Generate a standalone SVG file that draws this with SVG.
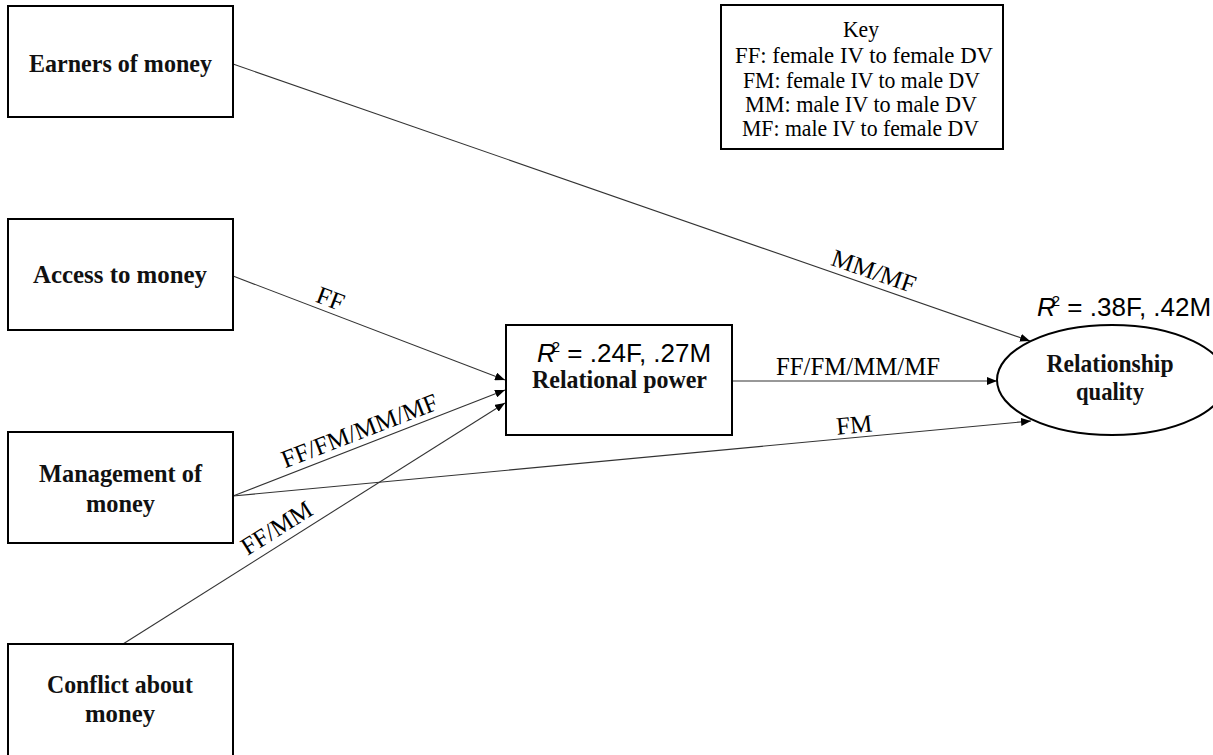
<svg xmlns="http://www.w3.org/2000/svg" width="1213" height="755" viewBox="0 0 1213 755">
<style>
.box{fill:#fff;stroke:#000;stroke-width:2}
.lbl{font-family:"Liberation Serif","Times New Roman",serif;font-size:26px;font-weight:bold;fill:#111;text-anchor:middle}
.key{font-family:"Liberation Serif","Times New Roman",serif;font-size:24px;fill:#000;text-anchor:middle}
.el{font-family:"Liberation Serif","Times New Roman",serif;font-size:25px;fill:#000;text-anchor:middle}
.r2{font-family:"Liberation Sans",Arial,sans-serif;font-size:26px;fill:#000}
.edge{stroke:#333;stroke-width:1.1;fill:none;marker-end:url(#arr)}
</style>
<defs>
<marker id="arr" viewBox="0 0 10 8" refX="10" refY="4" markerWidth="10" markerHeight="8" markerUnits="userSpaceOnUse" orient="auto">
<path d="M0,0 L10,4 L0,8 Z" fill="#000"/>
</marker>
</defs>
<rect width="1213" height="755" fill="#fff"/>
<g id="connectors">
<line class="edge" x1="233" y1="64" x2="1030" y2="341"/>
<line class="edge" x1="233" y1="276" x2="505" y2="380"/>
<line class="edge" x1="233" y1="496" x2="505" y2="390"/>
<line class="edge" x1="123" y1="644" x2="505" y2="403"/>
<line class="edge" x1="233" y1="496" x2="1031" y2="421"/>
<line class="edge" x1="732" y1="381" x2="997" y2="381"/>
<text class="el" x="871" y="279" transform="rotate(19.1 871 279)">MM/MF</text>
<text class="el" x="327.5" y="306.5" transform="rotate(20.9 327.5 306.5)">FF</text>
<text class="el" x="362.5" y="438.5" transform="rotate(-21.1 362.5 438.5)">FF/FM/MM/MF</text>
<text class="el" x="281" y="535" transform="rotate(-32.2 281 535)">FF/MM</text>
<text class="el" x="858" y="375" textLength="164" lengthAdjust="spacingAndGlyphs">FF/FM/MM/MF</text>
<text class="el" x="855" y="433" transform="rotate(-5.4 855 433)">FM</text>
</g>
<g id="earners">
<rect class="box" x="8" y="6" width="225" height="111"/>
<text class="lbl" x="120.5" y="71.5" textLength="183" lengthAdjust="spacingAndGlyphs">Earners of money</text>
</g>
<g id="access">
<rect class="box" x="8" y="219" width="225" height="111"/>
<text class="lbl" x="120" y="283" textLength="174" lengthAdjust="spacingAndGlyphs">Access to money</text>
</g>
<g id="management">
<rect class="box" x="8" y="432" width="225" height="111"/>
<text class="lbl" x="120.5" y="482" textLength="163" lengthAdjust="spacingAndGlyphs">Management of</text>
<text class="lbl" x="120.5" y="512" textLength="69" lengthAdjust="spacingAndGlyphs">money</text>
</g>
<g id="conflict">
<rect class="box" x="8" y="644" width="225" height="120"/>
<text class="lbl" x="120" y="693" textLength="146" lengthAdjust="spacingAndGlyphs">Conflict about</text>
<text class="lbl" x="120" y="722" textLength="70" lengthAdjust="spacingAndGlyphs">money</text>
</g>
<g id="relational">
<rect class="box" x="506" y="325" width="226" height="110"/>
<text class="r2" x="537" y="362"><tspan font-style="italic">R</tspan><tspan font-size="15" dx="-4" dy="-10">2</tspan><tspan dy="10"> = .24F, .27M</tspan></text>
<text class="lbl" x="619.5" y="388" textLength="175" lengthAdjust="spacingAndGlyphs">Relational power</text>
</g>
<g id="quality">
<ellipse cx="1112" cy="380" rx="115" ry="55" fill="#fff" stroke="#000" stroke-width="2"/>
<text class="r2" x="1037" y="316"><tspan font-style="italic">R</tspan><tspan font-size="15" dx="-4" dy="-10">2</tspan><tspan dy="10"> = .38F, .42M</tspan></text>
<text class="lbl" x="1110" y="372" textLength="127" lengthAdjust="spacingAndGlyphs">Relationship</text>
<text class="lbl" x="1110" y="400" textLength="68" lengthAdjust="spacingAndGlyphs">quality</text>
</g>
<g id="key">
<rect class="box" x="721" y="5" width="282" height="144"/>
<text class="key" x="861" y="37" textLength="36" lengthAdjust="spacingAndGlyphs">Key</text>
<text class="key" x="864" y="63" textLength="258" lengthAdjust="spacingAndGlyphs">FF: female IV to female DV</text>
<text class="key" x="861.5" y="87.5" textLength="237" lengthAdjust="spacingAndGlyphs">FM: female IV to male DV</text>
<text class="key" x="861" y="112" textLength="232" lengthAdjust="spacingAndGlyphs">MM: male IV to male DV</text>
<text class="key" x="860.5" y="136" textLength="237" lengthAdjust="spacingAndGlyphs">MF: male IV to female DV</text>
</g>
</svg>
